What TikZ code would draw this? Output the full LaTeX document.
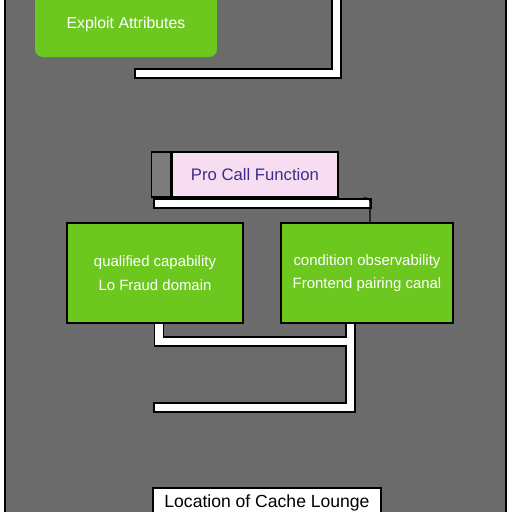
\documentclass[tikz,border=0pt]{standalone}
\usepackage{fontspec}
\setmainfont{Liberation Sans}
\usetikzlibrary{positioning,backgrounds}
\definecolor{panelgray}{HTML}{6B6B6B}
\definecolor{leafgreen}{HTML}{6CC81E}
\definecolor{callpink}{HTML}{F7DDF1}
\definecolor{callblue}{HTML}{3B2E8C}
\definecolor{stripgray}{HTML}{7C7C7C}

\begin{document}
\begin{tikzpicture}[x=0.02cm, y=-0.02cm,
	greenbox/.style={draw=black, line width=0.85pt, fill=leafgreen, text=white, align=center,
		font=\fontsize{8.5}{13.5}\selectfont, minimum height=2cm, inner sep=2pt},
	pipe/.style={draw=black, line width=0.85pt, double=white, double distance=4.5pt, line cap=rect},
	hook/.style={draw=black, line width=0.6pt, rounded corners=2pt}]
	\useasboundingbox (0,0) rectangle (512,512);

	\node[greenbox, draw=none, rounded corners=0.16cm, minimum width=3.64cm, minimum height=1.32cm,
		font=\fontsize{9}{11}\selectfont] (attr) at (126,24) {Exploit Attributes};
	\node[draw=black, line width=0.85pt, fill=callpink, text=callblue, minimum width=3.32cm,
		minimum height=0.9cm, font=\fontsize{9.5}{11}\selectfont] (call) at (255,174.5) {Pro Call Function};
	\node[draw=black, line width=0.85pt, fill=stripgray, minimum width=0.38cm, minimum height=0.9cm,
		left=0pt of call] (strip) {};
	\node[greenbox, minimum width=3.52cm] (lbox) at (155,273) {qualified capability\\Lo Fraud domain};
	\node[greenbox, minimum width=3.44cm] (rbox) at (367,273) {condition observability\\Frontend pairing canal};
	\node[draw=black, line width=0.85pt, fill=white, minimum width=4.56cm, minimum height=0pt,
		anchor=north, text height=7pt, text depth=2pt, inner ysep=4.5pt,
		font=\fontsize{10}{12}\selectfont] (lounge) at (267,487) {Location of Cache Lounge};

	\coordinate (topin) at (336.5,-20);
	\coordinate (topend) at (139.5,73.5);
	\coordinate (barstart) at (158.5,203.5);
	\coordinate (barend) at (366.5,203.5);
	\coordinate (lowjoin) at (350.5,341.5);
	\coordinate (lowend) at (158.5,407.5);

	\begin{pgfonlayer}{background}
		\fill[white] (0,0) rectangle (512,512);
		\fill[panelgray] (5,-10) rectangle (506,522);
		\draw[line width=1.2pt] (5,-10) -- (5,522) (506,-10) -- (506,522);
		% pipes
		\draw[pipe] (topin) |- (topend);
		\draw[pipe] (barstart) -- (barend);
		\draw[pipe] ([xshift=0.08cm]lbox.south) |- (lowjoin)
			([xshift=-0.33cm]rbox.south) |- (lowend);
	\end{pgfonlayer}
	\draw[hook] ([xshift=-0.06cm, yshift=0.11cm]barend) -| ([xshift=0.06cm]rbox.north);
\end{tikzpicture}
\end{document}
